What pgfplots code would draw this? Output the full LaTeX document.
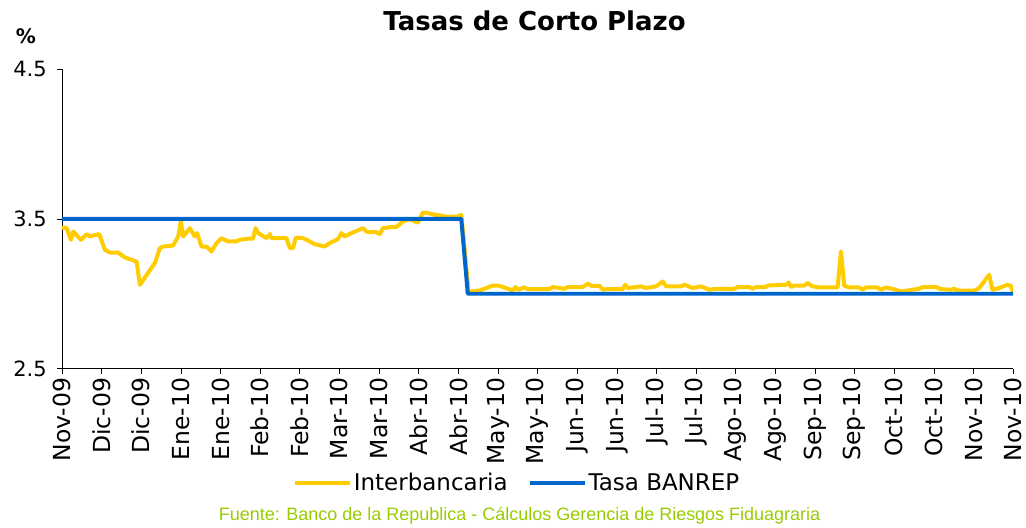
\documentclass[border=0pt]{standalone}
\usepackage{fontspec}
\setmainfont{DejaVu Sans}
\newfontfamily\arialfont{Liberation Sans}
\usepackage{pgfplots}
\pgfplotsset{compat=1.18}
\definecolor{ylw}{RGB}{255,204,0}
\definecolor{blu}{RGB}{0,102,204}
\definecolor{grn}{RGB}{153,204,0}
\begin{document}
\begin{tikzpicture}
\path (-62pt,-156pt) rectangle (964pt,369pt);
\begin{axis}[at={(0,0)}, anchor=south west, scale only axis,
  width=952pt, height=300pt,
  xmin=0, xmax=240, ymin=2.5, ymax=4.5,
  axis x line*=bottom, axis y line*=left,
  xtick={0,10,...,240},
  xticklabels={Nov-09,Dic-09,Dic-09,Ene-10,Ene-10,Feb-10,Feb-10,Mar-10,Mar-10,Abr-10,Abr-10,May-10,May-10,Jun-10,Jun-10,Jul-10,Jul-10,Ago-10,Ago-10,Sep-10,Sep-10,Oct-10,Oct-10,Nov-10,Nov-10},
  ytick={2.5,3.5,4.5}, yticklabels={2.5,3.5,4.5},
  tick align=outside, major tick length=5pt,
  tick style={black, line width=0.6pt},
  axis line style={black, line width=0.8pt},
  xticklabel style={rotate=90, anchor=east, font=\fontsize{23.5}{26}\selectfont, inner sep=4pt},
  yticklabel style={font=\fontsize{21}{24}\selectfont, inner sep=2pt, xshift=-8pt},
  legend style={at={(0.4785,-0.38)}, anchor=center, draw=none, fill=none, legend columns=2,
    font=\fontsize{23}{26}\selectfont,
    /tikz/every even column/.append style={column sep=18pt}},
  legend image code/.code={\draw[#1, line width=4pt] (0pt,0pt) -- (55pt,0pt);},
]
\addplot[ylw, line width=4pt, line join=round] coordinates {
(0,3.442) (1.18,3.438) (2.27,3.36) (2.85,3.415) (4.79,3.36) (6.23,3.398) (7.06,3.382) (7.89,3.389) (9.40,3.398)
(10.84,3.293) (12.10,3.275) (14.19,3.275) (15.88,3.242) (18.83,3.215) (19.66,3.06) (23.45,3.205) (24.71,3.305)
(25.54,3.315) (28.06,3.322) (29.32,3.382) (30.0,3.482) (30.58,3.382) (32.27,3.438) (33.53,3.382) (34.11,3.405)
(35.22,3.315) (36.48,3.315) (37.74,3.282) (39.0,3.338) (40.26,3.371) (41.92,3.349) (44.04,3.349) (44.87,3.36)
(46.97,3.367) (48.23,3.367) (48.83,3.438) (49.49,3.405) (51.6,3.371) (52.44,3.398) (52.87,3.371) (56.65,3.371)
(57.48,3.305) (58.31,3.305) (58.99,3.375) (60.83,3.371) (62.52,3.349) (63.78,3.331) (66.3,3.315) (67.56,3.338)
(69.65,3.365) (70.51,3.405) (71.34,3.382) (73.03,3.405) (75.13,3.427) (75.96,3.438) (76.81,3.415) (77.65,3.411)
(79.34,3.411) (80.17,3.398) (81.0,3.438) (83.12,3.445) (84.38,3.445) (86.04,3.482) (87.73,3.498) (88.99,3.482)
(89.82,3.475) (91.08,3.542) (92.34,3.538) (94.03,3.527) (95.72,3.522) (96.55,3.515) (99.91,3.515) (100.76,3.527)
(101.6,3.30) (102.6,3.01) (103.28,3.015) (105.38,3.022) (107.07,3.038) (108.73,3.055) (109.99,3.055) (110.85,3.049)
(113.77,3.022) (114.45,3.045) (115.03,3.027) (116.72,3.042) (117.55,3.031) (123.02,3.031) (123.86,3.045)
(126.81,3.033) (127.64,3.045) (131.42,3.045) (132.68,3.067) (133.54,3.053) (135.63,3.053) (136.46,3.027)
(137.32,3.031) (141.5,3.031) (142.11,3.06) (142.76,3.038) (146.14,3.049) (147.4,3.038) (149.92,3.049)
(151.59,3.082) (152.44,3.049) (156.23,3.049) (157.06,3.06) (159.15,3.038) (161.27,3.049) (163.36,3.027)
(165.05,3.033) (169.66,3.033) (170.5,3.045) (173.44,3.045) (174.28,3.033) (175.13,3.045) (177.65,3.045)
(178.06,3.055) (182.7,3.06) (183.35,3.075) (183.96,3.045) (184.79,3.055) (187.31,3.055) (188.14,3.071)
(189.4,3.049) (191.09,3.042) (195.71,3.042) (196.56,3.282) (197.39,3.053) (198.65,3.042) (201.18,3.042)
(202.01,3.027) (202.86,3.042) (205.79,3.042) (206.65,3.027) (207.91,3.042) (210.43,3.027) (211.69,3.015)
(214.61,3.027) (216.3,3.033) (217.13,3.045) (220.51,3.045) (221.77,3.031) (224.29,3.027) (225.12,3.033)
(225.96,3.022) (230.17,3.02) (231.43,3.038) (233.95,3.127) (234.78,3.027) (236.47,3.038) (238.56,3.06)
(239.42,3.053) (240,3.009)
};
\addlegendentry{Interbancaria}
\addplot[blu, line width=4pt, line join=round] coordinates {
(0,3.5) (100.76,3.5) (102.4,3.0) (240,3.0)
};
\addlegendentry{Tasa BANREP}
\end{axis}
\node[font=\bfseries\fontsize{26}{30}\selectfont] at (473pt,348pt) {Tasas de Corto Plazo};
\node[font=\bfseries\fontsize{20}{24}\selectfont] at (-36pt,333pt) {\%};
\node[font=\arialfont\fontsize{18}{21}\selectfont, text=grn] at (458pt,-147pt) {Fuente: Banco de la Republica - Cálculos Gerencia de Riesgos Fiduagraria};
\end{tikzpicture}
\end{document}
